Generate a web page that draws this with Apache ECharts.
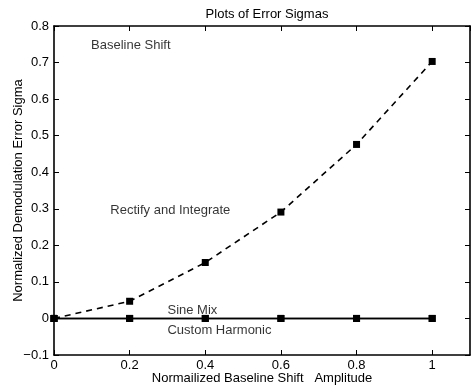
<!DOCTYPE html>
<html><head><meta charset="utf-8">
<script src="https://cdn.jsdelivr.net/npm/echarts@6/dist/echarts.min.js"></script>
<style>html,body{margin:0;padding:0;background:#fff}#c{width:472px;height:387px}</style>
</head><body><div id="c"></div>
<script>
const amplitudes = [0, 0.2, 0.4, 0.6, 0.8, 1.0];
const rectifyIntegrate = [0, 0.047, 0.153, 0.291, 0.476, 0.703];
const sineMix = [0, 0, 0, 0, 0, 0];
const customHarmonic = [0, 0, 0, 0, 0, 0];
const annotations = [
  {text: 'Baseline Shift', x: 0.098, y: 0.747},
  {text: 'Rectify and Integrate', x: 0.149, y: 0.296},
  {text: 'Sine Mix', x: 0.30, y: 0.023},
  {text: 'Custom Harmonic', x: 0.30, y: -0.032}
];
const FONT = 'Liberation Sans, Arial, Helvetica, sans-serif';
const FS = 13;
const fmt = v => {
  if (Math.abs(v) < 1e-9) return '0';
  if (v > 1.05) return '';
  let s = (Math.round(v * 10) / 10).toString();
  return s.replace('-', '\u2212');
};
const chart = echarts.init(document.getElementById('c'), null, {renderer: 'canvas'});
const pair = arr => amplitudes.map((a, i) => [a, arr[i]]);
const lineAxis = {show: true, onZero: false, lineStyle: {color: '#000', width: 1.6}};
const tick = {show: true, inside: true, length: 5, lineStyle: {color: '#000', width: 1}};
chart.setOption({
  animation: false,
  backgroundColor: '#fff',
  title: {text: 'Plots of Error Sigmas', left: 262, top: 3, textAlign: 'center',
    textStyle: {fontFamily: FONT, fontSize: FS, fontWeight: 'normal', color: '#000'}},
  grid: {left: 54, right: 2, top: 26, bottom: 32, containLabel: false, outerBoundsMode: 'none'},
  xAxis: [{
    type: 'value', min: 0, max: 1.1, interval: 0.2, position: 'bottom',
    axisLine: lineAxis, axisTick: tick, splitLine: {show: false},
    axisLabel: {formatter: fmt, color: '#000', fontFamily: FONT, fontSize: FS, margin: 4, showMaxLabel: false},
    name: 'Normailized Baseline Shift   Amplitude', nameLocation: 'middle', nameGap: 17, nameMoveOverlap: false,
    nameTextStyle: {fontFamily: FONT, fontSize: FS, color: '#000'}
  }, {
    type: 'value', min: 0, max: 1.1, interval: 0.2, position: 'top',
    axisLine: lineAxis, axisTick: tick, axisLabel: {show: false}, splitLine: {show: false}
  }],
  yAxis: [{
    type: 'value', min: -0.1, max: 0.8, interval: 0.1, position: 'left',
    axisLine: lineAxis, axisTick: tick, splitLine: {show: false},
    axisLabel: {formatter: fmt, color: '#000', fontFamily: FONT, fontSize: FS, margin: 5},
    name: 'Normalized Demodulation Error Sigma', nameLocation: 'middle', nameGap: 29, nameMoveOverlap: false,
    nameTextStyle: {fontFamily: FONT, fontSize: FS, color: '#000'}
  }, {
    type: 'value', min: -0.1, max: 0.8, interval: 0.1, position: 'right',
    axisLine: lineAxis, axisTick: tick, axisLabel: {show: false}, splitLine: {show: false}
  }],
  series: [{
    name: 'Rectify and Integrate', type: 'line', data: pair(rectifyIntegrate),
    symbol: 'rect', symbolSize: 7, showAllSymbol: true,
    lineStyle: {color: '#000', width: 1.6, type: [6, 5]},
    itemStyle: {color: '#000'}
  }, {
    name: 'Sine Mix', type: 'line', data: pair(sineMix),
    symbol: 'rect', symbolSize: 7,
    lineStyle: {color: '#000', width: 1.6}, itemStyle: {color: '#000'}
  }, {
    name: 'Custom Harmonic', type: 'line', data: pair(customHarmonic),
    symbol: 'rect', symbolSize: 7,
    lineStyle: {color: '#000', width: 1.6}, itemStyle: {color: '#000'}
  }, {
    name: 'labels', type: 'scatter', symbolSize: 0, silent: true,
    data: annotations.map(a => ({value: [a.x, a.y], name: a.text})),
    label: {show: true, position: 'right', distance: 0, formatter: p => p.name,
      color: '#000', fontFamily: FONT, fontSize: FS}
  }]
});
</script></body></html>
